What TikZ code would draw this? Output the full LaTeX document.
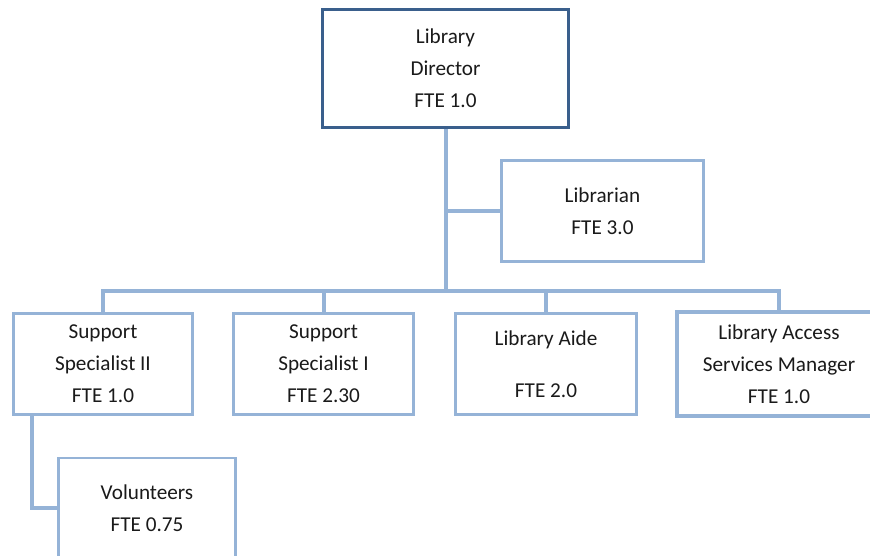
\documentclass[tikz,border=0pt]{standalone}
\usepackage{fontspec}
\setmainfont{Carlito}
\definecolor{lightline}{HTML}{95B3D7}
\definecolor{darkline}{HTML}{3A5F8C}
\definecolor{txt}{HTML}{1A1A1A}
\begin{document}
\begin{tikzpicture}[x=1pt,y=-1pt,
  box/.style={draw=lightline,line width=2.6pt,fill=white,inner sep=0pt,
    align=center,text=txt,font=\fontsize{21.2}{32}\selectfont,minimum height=101pt},
  topbox/.style={box,draw=darkline,line width=3.4pt},
  wide/.style={box,line width=3.6pt},
  conn/.style={draw=lightline,line width=4pt}]
\useasboundingbox (0,0) rectangle (870,555);
\clip (0,0) rectangle (870,555);
\node[topbox,minimum width=246pt,minimum height=118pt] (dir) at (445.5,68.5) {Library\\Director\\FTE 1.0};
\node[box,minimum width=202pt] (libr) at (602.5,211) {Librarian\\FTE 3.0};
\node[box,minimum width=179pt] (ss2) at (103,364) {Support\\Specialist II\\FTE 1.0};
\node[box,minimum width=180pt] (ss1) at (323.5,364) {Support\\Specialist I\\FTE 2.30};
\node[box,minimum width=181pt] (aide) at (546,364) {Library Aide\\[20pt]FTE 2.0};
\node[wide,minimum width=204pt,minimum height=104pt] (mgr) at (779,364) {Library Access\\Services Manager\\FTE 1.0};
\node[box,minimum width=177pt,minimum height=100pt] (vol) at (147,508) {Volunteers\\FTE 0.75};
\coordinate (bus) at (445.5,291);
\coordinate (volup) at (32,415);
\draw[conn] (dir.south) -- (bus);
\draw[conn] (libr.west) -- (libr.west -| dir.south);
\draw[conn,line cap=rect] (ss2.north |- bus) -- (mgr.north |- bus);
\draw[conn] (ss2.north) -- (ss2.north |- bus);
\draw[conn] (ss1.north) -- (ss1.north |- bus);
\draw[conn] (aide.north) -- (aide.north |- bus);
\draw[conn] (mgr.north) -- (mgr.north |- bus);
\draw[conn,line join=miter] (volup) |- (vol.west);
\end{tikzpicture}
\end{document}
